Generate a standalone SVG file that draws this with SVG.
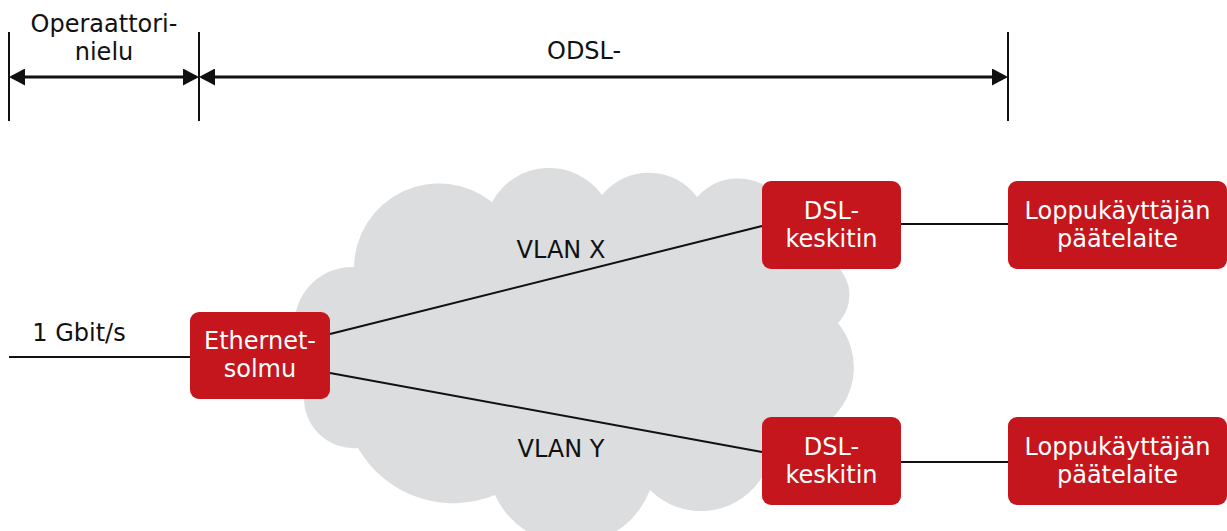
<svg xmlns="http://www.w3.org/2000/svg" width="1227" height="531" viewBox="0 0 1227 531">
<style>
text{font-family:"DejaVu Sans","Noto Sans",sans-serif;font-size:24px;}
.lbl{fill:#111;}
.wt{fill:#fff;text-anchor:middle;}
.box{fill:#c4161c;}
.ln{stroke:#111;stroke-width:2;fill:none;}
.dim{stroke:#111;stroke-width:3;fill:none;marker-start:url(#ah);marker-end:url(#ah);}
.tick{stroke:#111;stroke-width:2;}
</style>
<defs>
<marker id="ah" viewBox="0 0 16 17" refX="13" refY="8.5" markerWidth="16" markerHeight="17" markerUnits="userSpaceOnUse" orient="auto-start-reverse">
<path d="M0,0 L16,8.5 L0,17 Z" fill="#111"/>
</marker>
</defs>
<rect width="1227" height="531" fill="#fff"/>
<g id="dimensions">
<line class="tick" x1="9" y1="32" x2="9" y2="121"/>
<line class="tick" x1="199" y1="32" x2="199" y2="121"/>
<line class="tick" x1="1008" y1="32" x2="1008" y2="121"/>
<line class="dim" x1="12" y1="77" x2="196" y2="77"/>
<line class="dim" x1="202" y1="77" x2="1005" y2="77"/>
<text class="lbl" x="104" y="32" text-anchor="middle">Operaattori-</text>
<text class="lbl" x="104" y="60" text-anchor="middle">nielu</text>
<text class="lbl" x="547" y="59">ODSL-</text>
</g>
<g id="cloud">
<path fill="#dcdddf" d="M300,350 A58,58 0 0 1 354,267 A85,85 0 0 1 492,202 A65,65 0 0 1 602,195 A60,60 0 0 1 697,197 A55,55 0 0 1 790,215 L832,262 A40,40 0 0 1 838,323 A70,70 0 0 1 830,420 L765,472 A72,72 0 0 1 650,490 A84,84 0 0 1 495,495 A110,110 0 0 1 358,448 A50,50 0 0 1 304,400 Z"/>
</g>
<g id="connectors">
<line class="ln" x1="9" y1="357" x2="190" y2="357"/>
<line class="ln" x1="330" y1="334" x2="762" y2="226"/>
<line class="ln" x1="330" y1="373" x2="762" y2="452"/>
<line class="ln" x1="901" y1="224" x2="1008" y2="224"/>
<line class="ln" x1="901" y1="462" x2="1008" y2="462"/>
<text class="lbl" x="561" y="258" text-anchor="middle">VLAN X</text>
<text class="lbl" x="561" y="457" text-anchor="middle">VLAN Y</text>
<text class="lbl" x="79" y="341" text-anchor="middle">1 Gbit/s</text>
</g>
<g id="ethernet">
<rect class="box" x="190" y="312" width="140" height="87" rx="9"/>
<text class="wt" x="260" y="349">Ethernet-</text>
<text class="wt" x="260" y="377">solmu</text>
</g>
<g id="dsl1">
<rect class="box" x="762" y="181" width="139" height="88" rx="9"/>
<text class="wt" x="831.5" y="219">DSL-</text>
<text class="wt" x="831.5" y="247">keskitin</text>
</g>
<g id="end1">
<rect class="box" x="1008" y="181" width="219" height="88" rx="9"/>
<text class="wt" x="1117.5" y="219">Loppukäyttäjän</text>
<text class="wt" x="1117.5" y="247">päätelaite</text>
</g>
<g id="dsl2">
<rect class="box" x="762" y="417" width="139" height="88" rx="9"/>
<text class="wt" x="831.5" y="455">DSL-</text>
<text class="wt" x="831.5" y="483">keskitin</text>
</g>
<g id="end2">
<rect class="box" x="1008" y="417" width="219" height="88" rx="9"/>
<text class="wt" x="1117.5" y="455">Loppukäyttäjän</text>
<text class="wt" x="1117.5" y="483">päätelaite</text>
</g>
</svg>
